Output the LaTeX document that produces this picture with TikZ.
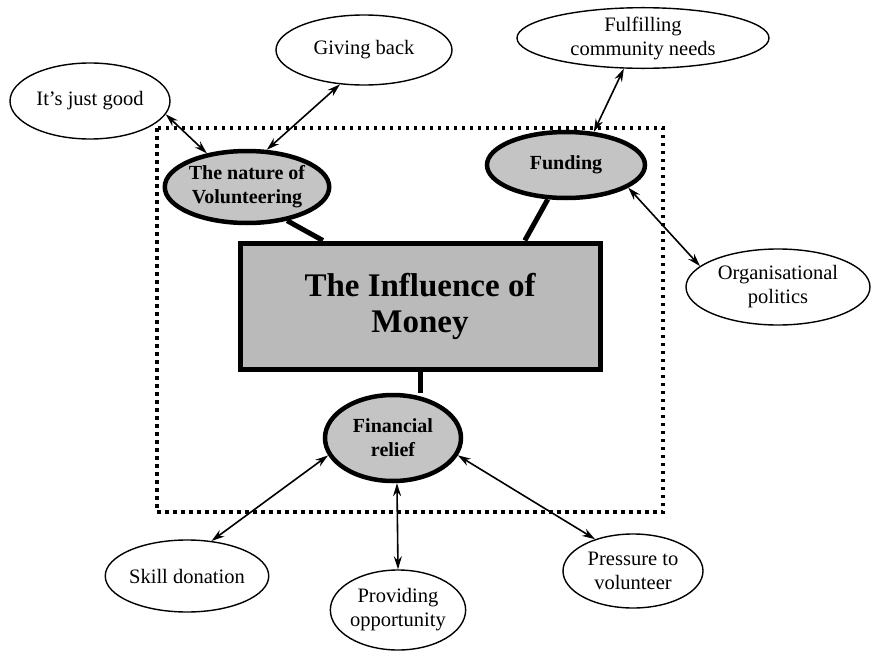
\documentclass[tikz,border=0pt]{standalone}
\usepackage{fontspec}
\setmainfont{Liberation Serif}
\usetikzlibrary{shapes.geometric,arrows.meta}
\definecolor{stip}{gray}{0.77}
\definecolor{stipdark}{gray}{0.73}
\begin{document}
\begin{tikzpicture}[x=1pt,y=-1pt,
  outer/.style={ellipse, draw, line width=1.4pt, fill=white, inner sep=0pt, align=center,
    font=\fontsize{20.5}{24}\selectfont},
  theme/.style={ellipse, draw, line width=4.5pt, fill=stip, inner sep=0pt, align=center,
    font=\bfseries\fontsize{20}{24}\selectfont},
  core/.style={rectangle, draw, line width=5pt, fill=stipdark, inner sep=0pt, align=center,
    font=\bfseries\fontsize{33}{36}\selectfont},
  link/.style={line width=5pt},
  rel/.style={line width=1.6pt, {Stealth[length=13pt,width=8pt]}-{Stealth[length=13pt,width=8pt]}},
  frame/.style={line width=3.5pt, dash pattern=on 3.5pt off 4.5pt}
]
\path[use as bounding box] (0,0) rectangle (871,653);

% dotted boundary around the core themes
\draw[frame] (157,128) rectangle (663,512);

% core and themes
\node[core, minimum width=360pt, minimum height=126pt] (core) at (420,306) {The Influence of\\Money};
\node[theme, minimum width=140pt, minimum height=72pt] (nature) at (247,187) {The nature of\\Volunteering};
\node[theme, minimum width=158pt, minimum height=66pt] (funding) at (566,165) {Funding};
\node[theme, minimum width=136pt, minimum height=86pt] (fin) at (393,438) {Financial\\relief};

% outer factors
\node[outer, minimum width=160pt, minimum height=76pt] (good) at (90,101) {It’s just good};
\node[outer, minimum width=176pt, minimum height=70pt] (giving) at (364,50) {Giving back};
\node[outer, minimum width=252pt, minimum height=60pt] (fulfil) at (643,38) {Fulfilling\\community needs};
\node[outer, minimum width=184pt, minimum height=76pt] (org) at (778,287) {Organisational\\politics};
\node[outer, minimum width=150pt, minimum height=72pt] (skill) at (187,576) {Skill donation};
\node[outer, minimum width=134pt, minimum height=80pt] (prov) at (398,610) {Providing\\opportunity};
\node[outer, minimum width=140pt, minimum height=74pt] (press) at (633,571) {Pressure to\\volunteer};

% thick links between the core and its themes
\draw[link] (nature.-40) -- (core.146);
\draw[link] (funding.-118) -- (core.32);
\draw[link] (core.south) -- (core.south |- fin.north);

% two-way relations to the outer factors
\draw[rel] (good.-10) -- (nature.140);
\draw[rel] (giving.-125) -- (nature.62);
\draw[rel] (fulfil.-122) -- (funding.50);
\draw[rel] (funding.-20) -- (org.165);
\draw[rel] (fin.195) -- (skill.55);
\draw[rel] (fin.-85) -- (prov.north);
\draw[rel] (fin.-15) -- (press.140);
\end{tikzpicture}
\end{document}
